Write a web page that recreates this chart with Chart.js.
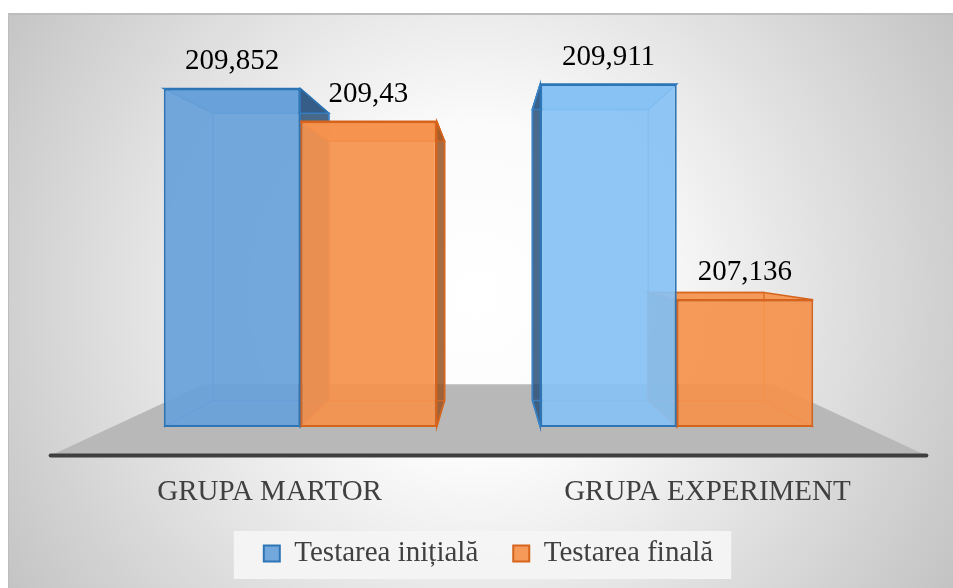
<!DOCTYPE html>
<html>
<head>
<meta charset="utf-8">
<script src="https://cdn.jsdelivr.net/npm/chart.js@4.4.1/dist/chart.umd.min.js"></script>
<style>
  html, body { margin: 0; padding: 0; background: #fff; }
</style>
</head>
<body>
<canvas id="bar-chart" width="953" height="588"></canvas>
<script>
var categories = ['GRUPA MARTOR', 'GRUPA EXPERIMENT'];
var series_names = ['Testarea inițială', 'Testarea finală'];
var initial_values = [209.852, 209.911];
var final_values = [209.43, 207.136];
var y_min = 205.5;
var y_max = 210;

var serif = '"Liberation Serif", "Times New Roman", serif';
// perspective depth factors (front face of bars = 1)
var K_BACK = 0.848, K_FLOOR_FRONT = 1.163, K_FLOOR_BACK = 0.756;
var side_colors = ['rgba(42,80,120,0.85)', 'rgba(150,82,35,0.85)'];
var edge_colors = ['rgba(60,135,205,0.8)', 'rgba(215,105,35,0.8)'];

function vanish(chart) {
    var a = chart.chartArea;
    return { x: (a.left + a.right) / 2, y: (a.top + a.bottom) / 2 };
}
function proj(v, x, y, k) {
    return { x: v.x + (x - v.x) * k, y: v.y + (y - v.y) * k };
}
function poly(ctx, pts, fill, stroke, lw) {
    ctx.beginPath();
    ctx.moveTo(pts[0].x, pts[0].y);
    for (var i = 1; i < pts.length; i++) ctx.lineTo(pts[i].x, pts[i].y);
    ctx.closePath();
    if (fill) { ctx.fillStyle = fill; ctx.fill(); }
    if (stroke) { ctx.strokeStyle = stroke; ctx.lineWidth = lw || 1.5; ctx.stroke(); }
}
function line(ctx, p, q) {
    ctx.beginPath(); ctx.moveTo(p.x, p.y); ctx.lineTo(q.x, q.y); ctx.stroke();
}
function fmt(v) { return String(v).replace('.', ','); }

var bars3d = {
    id: 'bars3d',
    beforeDraw: function(chart) {
        var ctx = chart.ctx, w = chart.width, h = chart.height;
        ctx.save();
        ctx.fillStyle = '#ffffff';
        ctx.fillRect(0, 0, w, h);
        var g = ctx.createRadialGradient(w / 2, h / 2, 0, w / 2, h / 2, 560);
        g.addColorStop(0, '#ffffff');
        g.addColorStop(0.3, '#fbfbfb');
        g.addColorStop(1, '#c3c3c3');
        ctx.fillStyle = g;
        ctx.fillRect(8, 13, w - 8, h - 13);
        ctx.strokeStyle = '#bdbdbd';
        ctx.lineWidth = 2;
        line(ctx, {x: 8, y: 14}, {x: w, y: 14});
        ctx.lineWidth = 1;
        line(ctx, {x: 8.5, y: 13}, {x: 8.5, y: h});
        // legend background
        var hb = chart.legend.legendHitBoxes;
        if (hb && hb.length) {
            var first = hb[0], last = hb[hb.length - 1];
            var x0 = first.left - 30, x1 = last.left + last.width + 18;
            ctx.fillStyle = 'rgba(244,244,244,0.95)';
            ctx.fillRect(x0, first.top - 8, x1 - x0, 48);
        }
        ctx.restore();
    },
    beforeDatasetsDraw: function(chart) {
        var ctx = chart.ctx, a = chart.chartArea, v = vanish(chart);
        ctx.save();
        // floor
        var fl = proj(v, a.left, a.bottom, K_FLOOR_FRONT), fr = proj(v, a.right, a.bottom, K_FLOOR_FRONT);
        var br = proj(v, a.right, a.bottom, K_FLOOR_BACK), bl = proj(v, a.left, a.bottom, K_FLOOR_BACK);
        poly(ctx, [fl, fr, br, bl], '#b8b8b8');
        ctx.lineCap = 'round';
        ctx.lineWidth = 4;
        ctx.strokeStyle = '#3f3f3f';
        line(ctx, fl, fr);
        ctx.lineCap = 'butt';
        // category labels on the front edge of the floor
        ctx.font = '29px ' + serif;
        ctx.fillStyle = '#404040';
        ctx.textAlign = 'center';
        ctx.textBaseline = 'middle';
        var xs = chart.scales.x;
        categories.forEach(function(c, i) {
            var p = proj(v, xs.getPixelForValue(i), a.bottom, K_FLOOR_FRONT);
            ctx.fillText(c, p.x, p.y + 37);
        });
        // back, top and side faces of every bar
        chart.data.datasets.forEach(function(ds, di) {
            var meta = chart.getDatasetMeta(di);
            meta.data.forEach(function(el) {
                var p = el.getProps(['x', 'y', 'base', 'width'], true);
                var l = p.x - p.width / 2, r = p.x + p.width / 2, t = p.y, b = Math.min(p.base, a.bottom);
                var ftl = {x: l, y: t}, ftr = {x: r, y: t}, fbl = {x: l, y: b}, fbr = {x: r, y: b};
                var btl = proj(v, l, t, K_BACK), btr = proj(v, r, t, K_BACK);
                var bbl = proj(v, l, b, K_BACK), bbr = proj(v, r, b, K_BACK);
                var col = el.options.backgroundColor, bcol = el.options.borderColor;
                poly(ctx, [ftl, ftr, btr, btl], col, bcol, 1.5);
                if (r < v.x) poly(ctx, [ftr, btr, bbr, fbr], side_colors[di], bcol, 1.5);
                else if (l > v.x) poly(ctx, [ftl, btl, bbl, fbl], side_colors[di], bcol, 1.5);
                ctx.strokeStyle = edge_colors[di];
                ctx.lineWidth = 1.5;
                poly(ctx, [btl, btr, bbr, bbl], null, edge_colors[di], 1.5);
                line(ctx, fbl, bbl);
                line(ctx, fbr, bbr);
                line(ctx, ftl, btl);
            });
        });
        ctx.restore();
    },
    afterDatasetsDraw: function(chart) {
        var ctx = chart.ctx;
        ctx.save();
        ctx.font = '29px ' + serif;
        ctx.fillStyle = '#000000';
        ctx.textAlign = 'center';
        ctx.textBaseline = 'middle';
        chart.data.datasets.forEach(function(ds, di) {
            chart.getDatasetMeta(di).data.forEach(function(el, i) {
                ctx.fillText(fmt(ds.data[i]), el.x, el.y - 27);
            });
        });
        ctx.restore();
    }
};

var barChart = new Chart(document.getElementById('bar-chart'), {
    type: 'bar',
    data: {
        labels: categories,
        datasets: [
            {
                label: series_names[0],
                data: initial_values,
                base: y_min,
                backgroundColor: function(c) {
                    return c.dataIndex === 1 ? 'rgba(136,194,244,0.93)' : 'rgba(104,161,217,0.93)';
                },
                borderColor: 'rgb(46,117,182)',
                borderWidth: 2,
                borderSkipped: false
            }, {
                label: series_names[1],
                data: final_values,
                base: y_min,
                backgroundColor: 'rgba(245,146,78,0.93)',
                borderColor: 'rgb(214,100,28)',
                borderWidth: 2,
                borderSkipped: false
            }
        ]
    },
    options: {
        responsive: false,
        animation: false,
        layout: { padding: { top: 77, left: 112, right: 88, bottom: 10 } },
        datasets: { bar: { categoryPercentage: 0.725, barPercentage: 1 } },
        scales: {
            x: {
                grid: { display: false },
                border: { display: false },
                ticks: { display: false },
                afterFit: function(s) { s.height = 77; }
            },
            y: { display: false, min: y_min, max: y_max }
        },
        plugins: {
            legend: {
                position: 'bottom',
                labels: {
                    font: { family: serif, size: 29 },
                    color: '#404040',
                    boxWidth: 16,
                    boxHeight: 16,
                    padding: 35
                }
            },
            tooltip: { enabled: false }
        }
    },
    plugins: [bars3d]
});
</script>
</body>
</html>
